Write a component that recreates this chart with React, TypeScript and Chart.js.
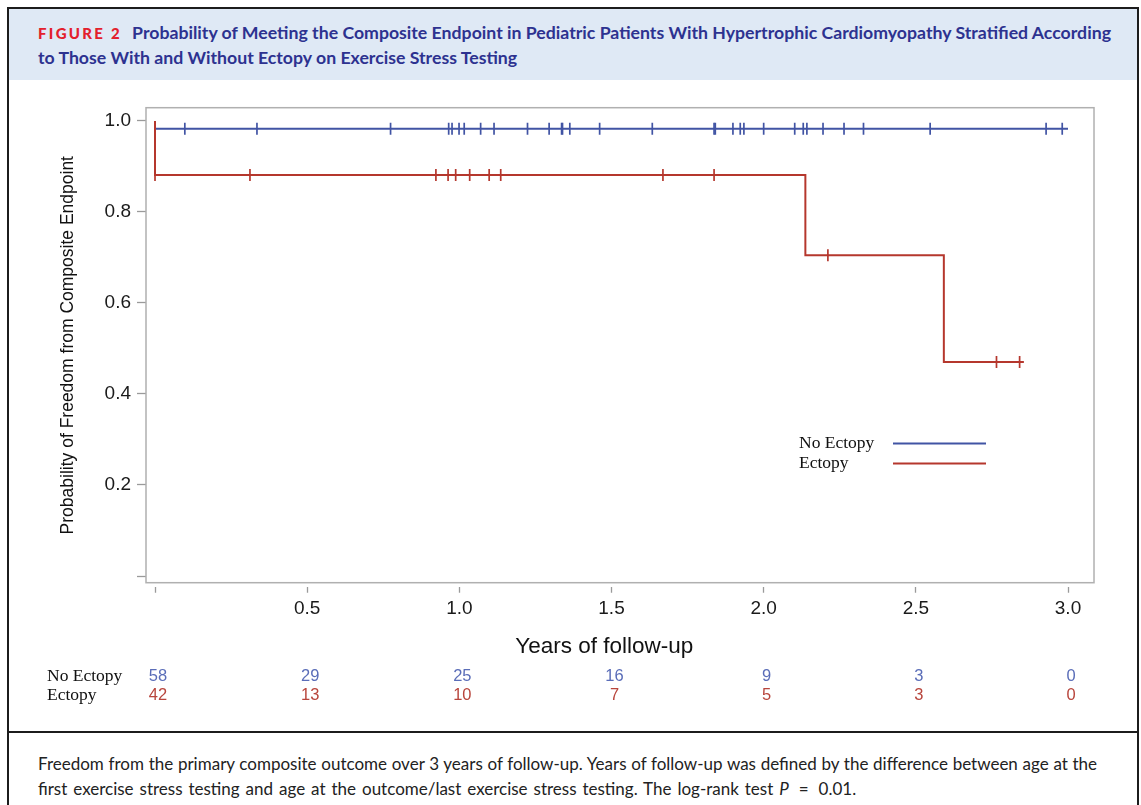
import React, { useEffect, useRef } from "react";
import { Chart, registerables } from "chart.js";

Chart.register(...registerables);

// ---------- data ----------
const seriesLabels = ["No Ectopy", "Ectopy"];
const noEctopyTimes = [0, 0, 3.0];
const noEctopySurv = [1.0, 0.983, 0.983];
const ectopyTimes = [0, 0, 2.137, 2.592, 2.855];
const ectopySurv = [1.0, 0.881, 0.705, 0.47, 0.47];
const noEctopyCensor = [
  0, 0.098, 0.335, 0.774, 0.965, 0.976, 0.999, 1.016, 1.07, 1.114, 1.224, 1.295,
  1.336, 1.339, 1.363, 1.461, 1.634, 1.837, 1.841, 1.899, 1.923, 1.935, 2.0, 2.102,
  2.13, 2.142, 2.195, 2.264, 2.328, 2.547, 2.928, 2.981,
];
const ectopyCensor = [
  0, 0.312, 0.923, 0.963, 0.988, 1.034, 1.098, 1.136, 1.669, 1.837, 2.211, 2.765, 2.841,
];
const riskTimes = [0, 0.5, 1.0, 1.5, 2.0, 2.5, 3.0];
const noEctopyAtRisk = [58, 29, 25, 16, 9, 3, 0];
const ectopyAtRisk = [42, 13, 10, 7, 5, 3, 0];
const xTickValues = [0, 0.5, 1.0, 1.5, 2.0, 2.5, 3.0];
const yTickValues = [0, 0.2, 0.4, 0.6, 0.8, 1.0];

const BLUE = "#4154a4";
const RED = "#b5372d";
const BLUE_TXT = "#5a6db8";
const RED_TXT = "#b8453c";
const SANS = "'Liberation Sans', Arial, Helvetica, sans-serif";
const SERIF = "'Liberation Serif', 'Times New Roman', serif";
const CANVAS_TOP = 80;

function survAt(times: number[], surv: number[], t: number) {
  let s = surv[0];
  for (let i = 0; i < times.length; i++) if (times[i] <= t) s = surv[i];
  return s;
}

const framePlugin = {
  id: "frame",
  beforeDatasetsDraw(chart: any) {
    const { ctx, chartArea } = chart;
    ctx.save();
    ctx.strokeStyle = "#b0b0b0";
    ctx.lineWidth = 1.5;
    ctx.strokeRect(chartArea.left, chartArea.top, chartArea.right - chartArea.left, chartArea.bottom - chartArea.top);
    ctx.restore();
  },
};

const extrasPlugin = {
  id: "extras",
  afterDraw(chart: any) {
    const { ctx } = chart;
    const xs = chart.scales.x;
    ctx.save();
    // legend (inside plot)
    const legendRows = [
      { label: seriesLabels[0], color: BLUE, y: 443 - CANVAS_TOP },
      { label: seriesLabels[1], color: RED, y: 463 - CANVAS_TOP },
    ];
    ctx.font = `17.5px ${SERIF}`;
    ctx.textBaseline = "middle";
    ctx.textAlign = "left";
    legendRows.forEach((r) => {
      ctx.fillStyle = "#111";
      ctx.fillText(r.label, 799, r.y);
      ctx.strokeStyle = r.color;
      ctx.lineWidth = 2;
      ctx.beginPath();
      ctx.moveTo(893, r.y + 0.5);
      ctx.lineTo(986, r.y + 0.5);
      ctx.stroke();
    });
    // risk table
    const rows = [
      { label: seriesLabels[0], vals: noEctopyAtRisk, color: BLUE_TXT, y: 676 - CANVAS_TOP },
      { label: seriesLabels[1], vals: ectopyAtRisk, color: RED_TXT, y: 695.5 - CANVAS_TOP },
    ];
    rows.forEach((r) => {
      ctx.font = `17.5px ${SERIF}`;
      ctx.fillStyle = "#111";
      ctx.textAlign = "left";
      ctx.fillText(r.label, 47, r.y);
      ctx.font = `16.5px ${SANS}`;
      ctx.fillStyle = r.color;
      ctx.textAlign = "center";
      r.vals.forEach((v, i) => {
        ctx.fillText(String(v), xs.getPixelForValue(riskTimes[i]) + 3, r.y);
      });
    });
    ctx.restore();
  },
};

function ChartView() {
  const ref = useRef<HTMLCanvasElement | null>(null);
  useEffect(() => {
    if (!ref.current) return;
    const curve = (times: number[], surv: number[]) => times.map((t, i) => ({ x: t, y: surv[i] }));
    const cens = (c: number[], times: number[], surv: number[]) => c.map((t) => ({ x: t, y: survAt(times, surv, t) }));
    const chart = new Chart(ref.current, {
      type: "line",
      data: {
        datasets: [
          {
            label: seriesLabels[0],
            data: curve(noEctopyTimes, noEctopySurv),
            borderColor: BLUE,
            borderWidth: 2,
            stepped: true,
            pointRadius: 0,
            fill: false,
            order: 3,
          },
          {
            label: seriesLabels[0] + " censored",
            data: cens(noEctopyCensor, noEctopyTimes, noEctopySurv),
            showLine: false,
            pointStyle: "line",
            rotation: 90,
            pointRadius: 6,
            borderColor: BLUE,
            pointBorderColor: BLUE,
            pointBorderWidth: 1.7,
            order: 2,
          },
          {
            label: seriesLabels[1],
            data: curve(ectopyTimes, ectopySurv),
            borderColor: RED,
            borderWidth: 2,
            stepped: true,
            pointRadius: 0,
            fill: false,
            order: 1,
          },
          {
            label: seriesLabels[1] + " censored",
            data: cens(ectopyCensor, ectopyTimes, ectopySurv),
            showLine: false,
            pointStyle: "line",
            rotation: 90,
            pointRadius: 6,
            borderColor: RED,
            pointBorderColor: RED,
            pointBorderWidth: 1.7,
            order: 0,
          },
        ],
      },
      options: {
        animation: false,
        responsive: false,
        maintainAspectRatio: false,
        layout: { padding: { left: 0, right: 47, top: 27.7, bottom: 69.5 } },
        plugins: { legend: { display: false }, tooltip: { enabled: false } },
        scales: {
          x: {
            type: "linear",
            min: -0.0296,
            max: 3.0854,
            afterBuildTicks: (s: any) => {
              s.ticks = xTickValues.map((v) => ({ value: v }));
            },
            afterFit: (s: any) => {
              s.height = 77.8;
            },
            ticks: {
              autoSkip: false,
              maxRotation: 0,
              padding: 5,
              color: "#1a1a1a",
              font: { family: SANS, size: 19 },
              callback: (v: any) => (v === 0 ? "" : Number(v).toFixed(1)),
            },
            grid: {
              drawOnChartArea: false,
              drawTicks: true,
              tickLength: 10,
              tickColor: "#9a9a9a",
              tickWidth: 1.3,
              tickBorderDash: [0, 4, 6, 100],
            },
            border: { display: false },
            title: {
              display: true,
              text: "Years of follow-up     ",
              color: "#111",
              font: { family: SANS, size: 22.5 },
              padding: 0,
            },
          },
          y: {
            type: "linear",
            min: -0.0147,
            max: 1.029,
            afterBuildTicks: (s: any) => {
              s.ticks = yTickValues.map((v) => ({ value: v }));
            },
            afterFit: (s: any) => {
              s.width = 146;
            },
            ticks: {
              padding: 6,
              color: "#1a1a1a",
              font: { family: SANS, size: 19 },
              callback: (v: any) => (v === 0 ? "" : Number(v).toFixed(1)),
            },
            grid: {
              drawOnChartArea: false,
              drawTicks: true,
              tickLength: 9,
              tickColor: "#9a9a9a",
              tickWidth: 1.3,
            },
            border: { display: false },
            title: {
              display: true,
              text: "Probability of Freedom from Composite Endpoint",
              color: "#111",
              font: { family: SANS, size: 17.5 },
              padding: { top: 57.5, bottom: 0 },
            },
          },
        },
      },
      plugins: [framePlugin, extrasPlugin],
    } as any);
    return () => chart.destroy();
  }, []);
  return (
    <canvas
      ref={ref}
      width={1141}
      height={650}
      style={{ position: "absolute", left: 0, top: CANVAS_TOP, width: 1141, height: 650 }}
    />
  );
}

export default function App() {
  const headFont = "Lato, 'Open Sans', sans-serif";
  const headLine: React.CSSProperties = {
    position: "absolute",
    left: 38,
    whiteSpace: "nowrap",
    fontFamily: headFont,
    fontWeight: 700,
    fontSize: 17.7,
    lineHeight: "20px",
    color: "#2d3290",
  };
  const capLine: React.CSSProperties = {
    position: "absolute",
    left: 38,
    whiteSpace: "nowrap",
    fontFamily: headFont,
    fontSize: 17,
    lineHeight: "20px",
    color: "#222",
  };
  return (
    <div style={{ position: "absolute", left: 0, top: 0, width: 1141, height: 805, overflow: "hidden", background: "#fff" }}>
      <div
        style={{
          position: "absolute",
          left: 7,
          top: 7,
          width: 1132,
          height: 830,
          border: "2px solid #1c1c1c",
          boxSizing: "border-box",
        }}
      />
      <div style={{ position: "absolute", left: 9, top: 9, width: 1128, height: 71, background: "#dfe9f5" }} />
      <div style={{ ...headLine, top: 23.2 }}>
        <span style={{ color: "#e3202c", fontSize: 15, fontWeight: 900, letterSpacing: 2.3 }}>FIGURE 2</span>
        <span style={{ marginLeft: 10 }}>
          Probability of Meeting the Composite Endpoint in Pediatric Patients With Hypertrophic Cardiomyopathy Stratified According
        </span>
      </div>
      <div style={{ ...headLine, top: 48.2 }}>to Those With and Without Ectopy on Exercise Stress Testing</div>
      <ChartView />
      <div style={{ position: "absolute", left: 7, top: 731, width: 1132, height: 2, background: "#1c1c1c" }} />
      <div style={{ ...capLine, top: 754.4, wordSpacing: 0.35 }}>
        Freedom from the primary composite outcome over 3 years of follow-up. Years of follow-up was defined by the difference between age at the
      </div>
      <div style={{ ...capLine, top: 779.4, wordSpacing: 1.6 }}>
        first exercise stress testing and age at the outcome/last exercise stress testing. The log-rank test <i>P</i>
        <span style={{ margin: "0 4px" }}> = </span>0.01.
      </div>
    </div>
  );
}
